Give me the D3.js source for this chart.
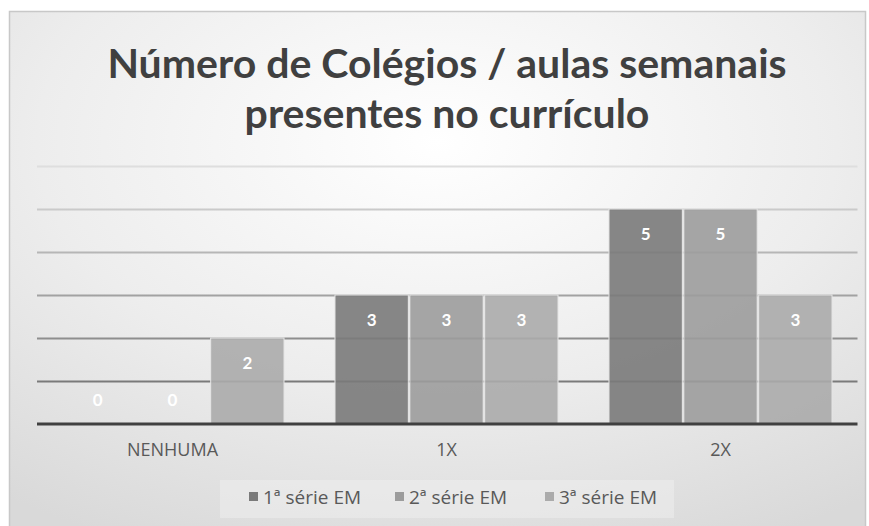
<!DOCTYPE html>
<html>
<head>
<meta charset="utf-8">
<script src="https://cdn.jsdelivr.net/npm/d3@7"></script>
<style>
  body { margin: 0; background: #ffffff; }
  svg { display: block; }
</style>
</head>
<body>
<div id="chart"></div>
<script>
// chart data
const categories = ['NENHUMA', '1X', '2X'];
const seriesNames = ['1ª série EM', '2ª série EM', '3ª série EM'];
const serie1 = [0, 3, 5];
const serie2 = [0, 3, 5];
const serie3 = [2, 3, 3];
const yTicks = [1, 2, 3, 4, 5, 6];
const titleLines = ['Número de Colégios / aulas semanais', 'presentes no currículo'];

const seriesValues = [serie1, serie2, serie3];
const colors = ['#7a7a7a', '#9c9c9c', '#ababab'];

const width = 869, height = 526;

const svg = d3.select('#chart').append('svg')
    .attr('width', width)
    .attr('height', height);

// background gradient
const defs = svg.append('defs');
const bg = defs.append('radialGradient')
    .attr('id', 'bg')
    .attr('cx', '0.5').attr('cy', '0.25').attr('r', '0.85');
bg.append('stop').attr('offset', '0%').attr('stop-color', '#ffffff');
bg.append('stop').attr('offset', '55%').attr('stop-color', '#ededed');
bg.append('stop').attr('offset', '100%').attr('stop-color', '#d9d9d9');

svg.append('rect')
    .attr('x', 9.5).attr('y', 11.5)
    .attr('width', 856).attr('height', 520)
    .attr('fill', 'url(#bg)')
    .attr('stroke', '#c8c8c8')
    .attr('stroke-width', 1.5);

// title
svg.selectAll('.title')
    .data(titleLines)
    .join('text')
    .attr('class', 'title')
    .attr('x', 447)
    .attr('y', (d, i) => 78 + i * 50)
    .attr('text-anchor', 'middle')
    .style('font-family', 'Lato, sans-serif')
    .style('font-weight', 700)
    .style('font-size', '41px')
    .style('fill', '#404040')
    .text(d => d);

// scales
const x0 = d3.scaleBand()
    .domain(categories)
    .range([35.5, 857.5])
    .paddingInner(0.186)
    .paddingOuter(0.093);

const x1 = d3.scaleBand()
    .domain(d3.range(seriesNames.length))
    .range([0, x0.bandwidth()])
    .paddingInner(0.02);

const y = d3.scaleLinear()
    .domain([0, 6])
    .range([424, 166]);

// gridlines, darker near the base
const gridColor = d3.scaleLinear().domain([1, 6]).range(['#7a7a7a', '#dedede']);

const yAxis = d3.axisLeft(y)
    .tickValues(yTicks)
    .tickSize(-(857.5 - 37))
    .tickFormat('');

const yAxisG = svg.append('g')
    .attr('transform', 'translate(37,0)')
    .call(yAxis)
    .call(g => g.select('.domain').remove());

yAxisG.selectAll('.tick line')
    .attr('stroke', d => gridColor(d))
    .attr('stroke-width', 2);

// bars
const groups = svg.selectAll('.group')
    .data(categories)
    .join('g')
    .attr('class', 'group')
    .attr('transform', d => `translate(${x0(d)},0)`);

groups.selectAll('rect')
    .data((c, ci) => seriesValues.map((vals, si) => ({ si, v: vals[ci] })))
    .join('rect')
    .attr('x', d => x1(d.si))
    .attr('y', d => y(d.v))
    .attr('width', x1.bandwidth())
    .attr('height', d => y(0) - y(d.v))
    .attr('fill', d => colors[d.si])
    .attr('fill-opacity', 0.9)
    .attr('stroke', '#e6e6e6')
    .attr('stroke-width', d => d.v > 0 ? 1 : 0);

// value labels
groups.selectAll('.val')
    .data((c, ci) => seriesValues.map((vals, si) => ({ si, v: vals[ci] })))
    .join('text')
    .attr('class', 'val')
    .attr('x', d => x1(d.si) + x1.bandwidth() / 2)
    .attr('y', d => d.v > 0 ? y(d.v) + 31 : y(0) - 18)
    .attr('text-anchor', 'middle')
    .style('font-family', 'Lato, sans-serif')
    .style('font-weight', 700)
    .style('font-size', '17px')
    .style('fill', '#ffffff')
    .text(d => d.v);

// baseline and x axis labels
const xAxis = d3.axisBottom(x0).tickSize(0).tickPadding(19);
const xAxisG = svg.append('g')
    .attr('transform', `translate(0,${y(0)})`)
    .call(xAxis);

xAxisG.select('.domain')
    .attr('d', 'M37,0H857.5')
    .attr('stroke', '#404040')
    .attr('stroke-width', 3);

xAxisG.selectAll('.tick text')
    .style('font-family', '"Open Sans", sans-serif')
    .style('font-size', '18px')
    .style('fill', '#595959');

// legend
svg.append('rect')
    .attr('x', 220).attr('y', 480)
    .attr('width', 454).attr('height', 38)
    .attr('fill', '#f0f0f0')
    .attr('fill-opacity', 0.5);

const legendX = [249, 395, 545];
const legend = svg.selectAll('.legend')
    .data(seriesNames)
    .join('g')
    .attr('class', 'legend')
    .attr('transform', (d, i) => `translate(${legendX[i]},497)`);

legend.append('rect')
    .attr('x', 0).attr('y', -5)
    .attr('width', 9).attr('height', 9)
    .attr('fill', (d, i) => colors[i]);

legend.append('text')
    .attr('x', 14)
    .attr('y', 7)
    .style('font-family', '"Open Sans", sans-serif')
    .style('font-size', '19px')
    .style('fill', '#595959')
    .text(d => d);
</script>
</body>
</html>
